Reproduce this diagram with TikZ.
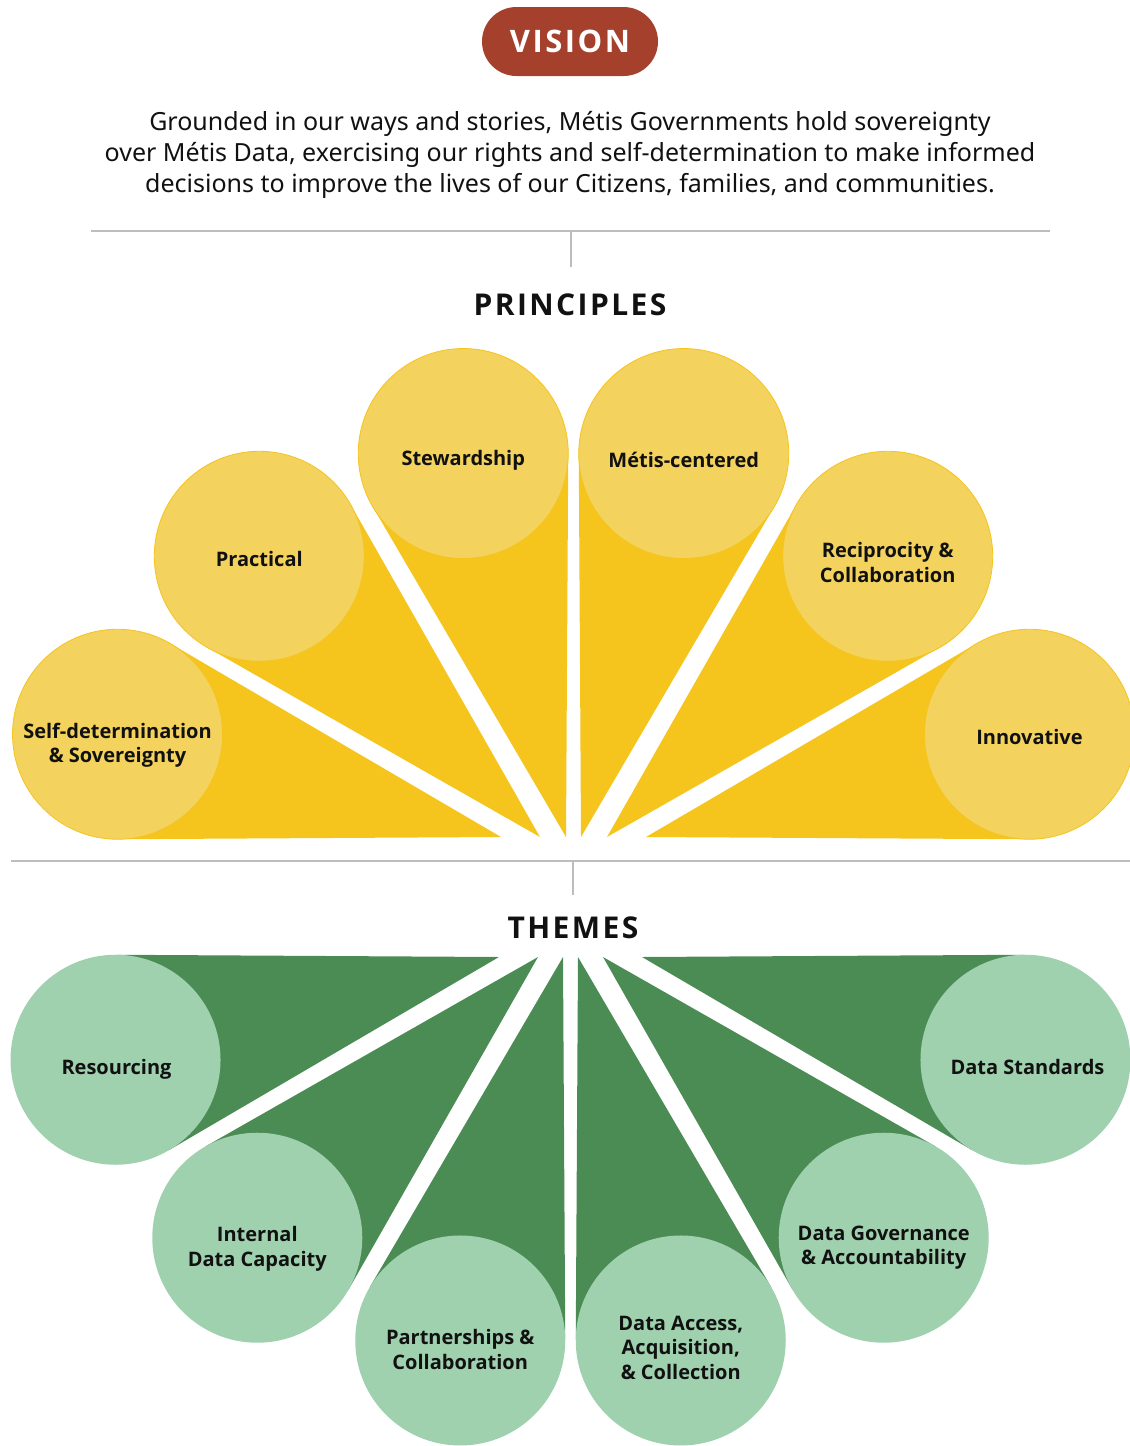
\documentclass[tikz,border=0pt]{standalone}
\usepackage{fontspec}
\setmainfont{Noto Sans}
\newfontfamily\boldfam{Open Sans}
\newfontfamily\spacedfont{Open Sans}[LetterSpace=8]
\usetikzlibrary{calc}
\definecolor{visionred}{HTML}{A5402D}
\definecolor{ydark}{HTML}{F5C41D}
\definecolor{ylight}{HTML}{F3D25E}
\definecolor{gdark}{HTML}{4B8C55}
\definecolor{glight}{HTML}{A0D1AF}
\definecolor{rulegray}{HTML}{BDBDBD}
\definecolor{ink}{HTML}{111111}
\tikzset{
  rule/.style={draw=rulegray, line width=1.6pt},
  ywedge/.style={fill=ydark},
  gwedge/.style={fill=gdark},
  ycirc/.style={circle, fill=ylight, draw=ydark, line width=0.8pt, minimum size=210pt, inner sep=0pt},
  gcirc/.style={circle, fill=glight, minimum size=210pt, inner sep=0pt},
  lbl/.style={align=center, text=ink, font=\boldfam\bfseries\fontsize{20}{24.5}\selectfont},
  heading/.style={text=ink, font=\spacedfont\bfseries\fontsize{30}{34}\selectfont},
}
\newcommand{\wedgefill}[3]{% style, tip, center
  \fill[#1] (#2) -- ($(#3)!105pt!74.66:(#2)$) -- ($(#3)!105pt!-74.66:(#2)$) -- cycle;}
\begin{document}
\begin{tikzpicture}[x=1pt,y=-1pt]
\useasboundingbox (0,0) rectangle (1130,1446);

% Vision
\node[fill=visionred, rounded corners=34.5pt, minimum width=176pt, minimum height=69pt, text=white,
      font=\spacedfont\bfseries\fontsize{31}{36}\selectfont] (vision) at (570,41.5) {VISION};
\node[align=center, text=ink, font=\fontsize{25}{31}\selectfont] (vtext) at (570,155)
  {Grounded in our ways and stories, Métis Governments hold sovereignty\\
   over Métis Data, exercising our rights and self-determination to make informed\\
   decisions to improve the lives of our Citizens, families, and communities.};

% rules
\coordinate (r1a) at (91,231);
\coordinate (r1b) at (1050,231);
\coordinate (r1m) at (571,231);
\coordinate (r1d) at (571,267);
\draw[rule] (r1a) -- (r1b);
\draw[rule] (r1m) -- (r1d);

\node[heading] (principles) at (570,305) {PRINCIPLES};

% yellow fan
\foreach \i/\x/\a in {1/501/-165, 2/540/-135, 3/566/-105, 4/581/-75, 5/607/-45, 6/646/-15}{
  \coordinate (yt\i) at (\x,837);
  \coordinate (yk\i) at ($(yt\i)+(\a:397)$);
  \wedgefill{ywedge}{yt\i}{yk\i}
}
\node[ycirc] (yc1) at (yk1) {};
\node[ycirc] (yc2) at (yk2) {};
\node[ycirc] (yc3) at (yk3) {};
\node[ycirc] (yc4) at (yk4) {};
\node[ycirc] (yc5) at (yk5) {};
\node[ycirc] (yc6) at (yk6) {};
\node[lbl] (yl1) at ([yshift=-11pt]yc1.center) {Self-determination\\\& Sovereignty};
\node[lbl] (yl2) at ([yshift=-3pt]yc2.center) {Practical};
\node[lbl] (yl3) at ([yshift=-7pt]yc3.center) {Stewardship};
\node[lbl] (yl4) at ([yshift=-6pt]yc4.center) {Métis-centered};
\node[lbl] (yl5) at ([yshift=-6pt]yc5.center) {Reciprocity \&\\Collaboration};
\node[lbl] (yl6) at ([yshift=-3pt]yc6.center) {Innovative};

% middle rule
\coordinate (r2a) at (11,861);
\coordinate (r2b) at (1130,861);
\coordinate (r2m) at (573,861);
\coordinate (r2d) at (573,895);
\draw[rule] (r2a) -- (r2b);
\draw[rule] (r2m) -- (r2d);

\node[heading] (themes) at (573,928) {THEMES};

% green fan
\foreach \i/\x/\a in {1/499/165, 2/538/135, 3/563/105, 4/578/75, 5/603/45, 6/642/15}{
  \coordinate (gt\i) at (\x,957);
  \coordinate (gk\i) at ($(gt\i)+(\a:397)$);
  \wedgefill{gwedge}{gt\i}{gk\i}
}
\node[gcirc] (gc1) at (gk1) {};
\node[gcirc] (gc2) at (gk2) {};
\node[gcirc] (gc3) at (gk3) {};
\node[gcirc] (gc4) at (gk4) {};
\node[gcirc] (gc5) at (gk5) {};
\node[gcirc] (gc6) at (gk6) {};
\node[lbl] (gl1) at ([xshift=1pt,yshift=-10pt]gc1.center) {Resourcing};
\node[lbl] (gl2) at ([yshift=-11pt]gc2.center) {Internal\\Data Capacity};
\node[lbl] (gl3) at ([yshift=-9pt]gc3.center) {Partnerships \&\\Collaboration};
\node[lbl] (gl4) at ([yshift=-7pt]gc4.center) {Data Access,\\Acquisition,\\\& Collection};
\node[lbl] (gl5) at ([yshift=-10pt]gc5.center) {Data Governance\\\& Accountability};
\node[lbl] (gl6) at ([xshift=2pt,yshift=-7pt]gc6.center) {Data Standards};
\end{tikzpicture}
\end{document}
